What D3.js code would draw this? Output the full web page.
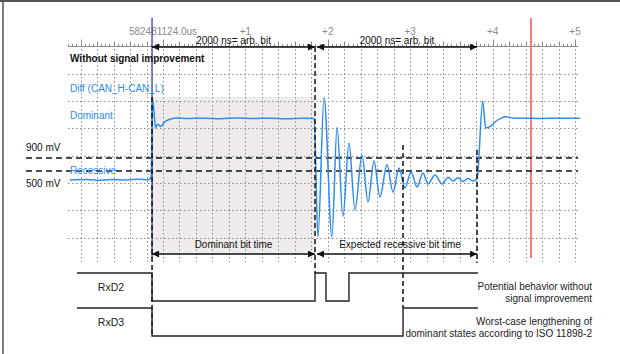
<!DOCTYPE html>
<html>
<head>
<meta charset="utf-8">
<script src="https://cdn.jsdelivr.net/npm/d3@7"></script>
<style>
  body { margin: 0; background: #fff; }
  svg { display: block; font-family: "Liberation Sans", Arial, sans-serif; }
</style>
</head>
<body>
<svg id="chart" width="620" height="354"></svg>
<script>
// time in µs relative to the trigger, voltage in mV
const tickTimes = [0, 1, 2, 3, 4, 5];
const tickLabels = ["582481124.0us", "+1", "+2", "+3", "+4", "+5"];

const levelValues = [900, 500];
const levelLabels = ["900 mV", "500 mV"];

// Diff (CAN_H - CAN_L)
const diffSignal = [
    [-1.13, 225], [-0.95, 240], [-0.8, 215], [-0.62, 235], [-0.45, 220], [-0.3, 250], [-0.17, 230],
    [-0.145, 320], [-0.125, 2690], [-0.09, 1830], [-0.065, 1940], [-0.03, 1870], [0.02, 2010],
    [0.085, 2090], [0.17, 2130], [0.3, 2115], [0.5, 2125], [0.7, 2110], [0.9, 2130], [1.1, 2115],
    [1.3, 2125], [1.5, 2110], [1.7, 2125], [1.835, 2115],
    [1.88, -1530], [1.955, 2760], [2.05, -1530], [2.112, 1850], [2.184, -900], [2.257, 1360],
    [2.33, -700], [2.415, 990], [2.488, -450], [2.561, 810], [2.633, -300], [2.718, 690],
    [2.791, -150], [2.864, 590], [2.937, -20], [3.01, 470], [3.083, 10], [3.155, 440],
    [3.216, 100], [3.301, 380], [3.386, 100], [3.46, 310], [3.52, 190], [3.58, 290], [3.64, 180],
    [3.7, 270], [3.76, 190], [3.80, 240], [3.815, 320],
    [3.88, 2650], [3.916, 1820], [3.98, 1880], [4.04, 2030], [4.1, 2120], [4.16, 2170],
    [4.25, 2130], [4.4, 2125], [4.6, 2115], [4.8, 2125], [5.06, 2120]
];

// receiver outputs, 1 = recessive (high), 0 = dominant (low)
const rxdRows = ["RxD2", "RxD3"];
const rxd2 = [[-1.044, 1], [-0.133, 0], [1.845, 1], [1.978, 0], [2.257, 1], [3.823, 1]];
const rxd3 = [[-1.044, 1], [-0.133, 0], [2.913, 1], [3.823, 1]];

const bitSpans = [[-0.133, 1.845], [1.869, 3.811]];
const spanTopLabels = ["2000 ns= arb. bit", "2000 ns= arb. bit"];
const spanBottomLabels = ["Dominant bit time", "Expected recessive bit time"];

const rightNotes = [
    ["Potential behavior without", "signal improvement"],
    ["Worst-case lengthening of", "dominant states according to ISO 11898-2"]
];

const cursorTimes = [-0.133, 4.466];
const edgeTimes = [-0.133, 1.845, 2.913, 3.811];

const svg = d3.select("#chart");
const x = d3.scaleLinear().domain([0, 5]).range([163, 575]);
const y = d3.scaleLinear().domain([500, 900]).range([171, 158]);
const gy = d3.scaleLinear().domain([0, 8]).range([46.4, 264.8]);
const level = d3.scaleLinear().domain([1, 0]).range([0, 28]);
const rowY = d3.scalePoint().domain(rxdRows).range([273, 308]);

const blue = "#2d8cf0";
const gridLeft = 68, gridRight = 578;

// frame
svg.append("line").attr("x1", 0).attr("x2", 620).attr("y1", 1).attr("y2", 1)
    .attr("stroke", "#555").attr("stroke-width", 2);
svg.append("line").attr("x1", 3).attr("x2", 3).attr("y1", 0).attr("y2", 354)
    .attr("stroke", "#555").attr("stroke-width", 1.5);

// dominant bit shading
svg.append("rect")
    .attr("x", x(bitSpans[0][0])).attr("width", x(bitSpans[0][1]) - x(bitSpans[0][0]))
    .attr("y", 97).attr("height", 157)
    .attr("fill", "#eeebea");

// grid
const grid = svg.append("g").attr("stroke", "#8c8c8c").attr("stroke-width", 1)
    .attr("stroke-dasharray", "1.5,2.5");
grid.selectAll("line.v").data(d3.range(-1, 5.01, 0.2)).enter().append("line")
    .attr("x1", d => Math.round(x(d)) + 0.5).attr("x2", d => Math.round(x(d)) + 0.5)
    .attr("y1", 49).attr("y2", 262);
grid.selectAll("line.h").data(d3.range(1, 8)).enter().append("line")
    .attr("x1", gridLeft).attr("x2", gridRight)
    .attr("y1", d => Math.round(gy(d)) + 0.5).attr("y2", d => Math.round(gy(d)) + 0.5);

// ruler
const ruler = svg.append("g").attr("stroke", "#8a8a8a").attr("stroke-width", 1);
ruler.append("line").attr("x1", gridLeft).attr("x2", gridRight).attr("y1", 46.5).attr("y2", 46.5);
ruler.selectAll("line.t").data(d3.range(-23, 101)).enter().append("line")
    .attr("x1", k => Math.round(x(k * 0.05)) + 0.5).attr("x2", k => Math.round(x(k * 0.05)) + 0.5)
    .attr("y1", 46.5)
    .attr("y2", k => 46.5 - (k % 20 === 0 ? 7 : k % 4 === 0 ? 5 : 2.5));
svg.selectAll("text.tick").data(tickTimes).enter().append("text")
    .attr("x", d => x(d)).attr("y", 35)
    .attr("text-anchor", "middle").attr("font-size", 10).attr("fill", "#8a8a8a")
    .text((d, i) => tickLabels[i]);

// cursors
svg.selectAll("line.cursor").data(cursorTimes).enter().append("line")
    .attr("x1", d => x(d)).attr("x2", d => x(d)).attr("y1", 18).attr("y2", 258)
    .attr("stroke", (d, i) => i === 0 ? "#2a2aa8" : "#f27b7b")
    .attr("stroke-width", (d, i) => i === 0 ? 1.2 : 2);

// threshold levels
svg.selectAll("line.level").data(levelValues).enter().append("line")
    .attr("x1", 26).attr("x2", gridRight)
    .attr("y1", d => y(d)).attr("y2", d => y(d))
    .attr("stroke", "#111").attr("stroke-width", 1.6).attr("stroke-dasharray", "6,4");
svg.selectAll("text.level").data(levelValues).enter().append("text")
    .attr("x", 26).attr("y", (d, i) => i === 0 ? 151 : 187)
    .attr("font-size", 10).attr("fill", "#111")
    .text((d, i) => levelLabels[i]);

// waveform
const line = d3.line().x(d => x(d[0])).y(d => y(d[1])).curve(d3.curveMonotoneX);
svg.append("path").datum(diffSignal)
    .attr("d", line).attr("fill", "none")
    .attr("stroke", blue).attr("stroke-width", 1.5);

// edge markers
const edgeRanges = [[97, 334], [47, 273], [145, 308], [150, 263]];
svg.selectAll("line.edge").data(edgeTimes).enter().append("line")
    .attr("x1", d => x(d)).attr("x2", d => x(d))
    .attr("y1", (d, i) => edgeRanges[i][0]).attr("y2", (d, i) => edgeRanges[i][1])
    .attr("stroke", "#111").attr("stroke-width", 1.5).attr("stroke-dasharray", "5,3");

// arrows
const defs = svg.append("defs");
defs.append("marker").attr("id", "arrow")
    .attr("viewBox", "0 0 10 10").attr("refX", 10).attr("refY", 5)
    .attr("markerWidth", 9).attr("markerHeight", 7).attr("markerUnits", "userSpaceOnUse")
    .attr("orient", "auto-start-reverse")
    .append("path").attr("d", "M0,0L10,5L0,10Z").attr("fill", "#111");

[47, 254].forEach(ay => {
    svg.selectAll(null).data(bitSpans).enter().append("line")
        .attr("x1", d => x(d[0])).attr("x2", d => x(d[1]))
        .attr("y1", ay).attr("y2", ay)
        .attr("stroke", "#111").attr("stroke-width", 1.5)
        .attr("marker-start", "url(#arrow)").attr("marker-end", "url(#arrow)");
});
svg.selectAll("text.top").data(bitSpans).enter().append("text")
    .attr("x", d => (x(d[0]) + x(d[1])) / 2).attr("y", 44)
    .attr("text-anchor", "middle").attr("font-size", 10).attr("fill", "#111")
    .text((d, i) => spanTopLabels[i]);
svg.selectAll("text.bottom").data(bitSpans).enter().append("text")
    .attr("x", (d, i) => (x(d[0]) + x(d[1])) / 2 + (i === 1 ? 3 : 0)).attr("y", 248)
    .attr("text-anchor", "middle").attr("font-size", 10).attr("fill", "#111")
    .text((d, i) => spanBottomLabels[i]);

// left labels
svg.append("text").attr("x", 70).attr("y", 62)
    .attr("font-size", 10).attr("font-weight", "bold").attr("fill", "#111")
    .text("Without signal improvement");
const blueLabels = [["Diff (CAN_H-CAN_L)", 92], ["Dominant", 119], ["Recessive", 174]];
svg.selectAll("text.sig").data(blueLabels).enter().append("text")
    .attr("x", 70).attr("y", d => d[1])
    .attr("font-size", 10).attr("fill", blue)
    .text(d => d[0]);

// receiver outputs
const step = d3.line().x(d => x(d[0])).curve(d3.curveStepAfter);
[rxd2, rxd3].forEach((sig, i) => {
    const base = rowY(rxdRows[i]);
    svg.append("path").datum(sig)
        .attr("d", step.y(d => base + level(d[1])))
        .attr("fill", "none").attr("stroke", "#222").attr("stroke-width", 1.4);
});
svg.selectAll("text.rxd").data(rxdRows).enter().append("text")
    .attr("x", 111).attr("y", d => rowY(d) + 18)
    .attr("text-anchor", "middle").attr("font-size", 10.5).attr("fill", "#222")
    .text(d => d);

rightNotes.forEach((lines, i) => {
    const base = rowY(rxdRows[i]);
    svg.selectAll(null).data(lines).enter().append("text")
        .attr("x", 592).attr("y", (d, j) => base + 17 + j * 11.5)
        .attr("text-anchor", "end").attr("font-size", 10).attr("fill", "#222")
        .text(d => d);
});
</script>
</body>
</html>
